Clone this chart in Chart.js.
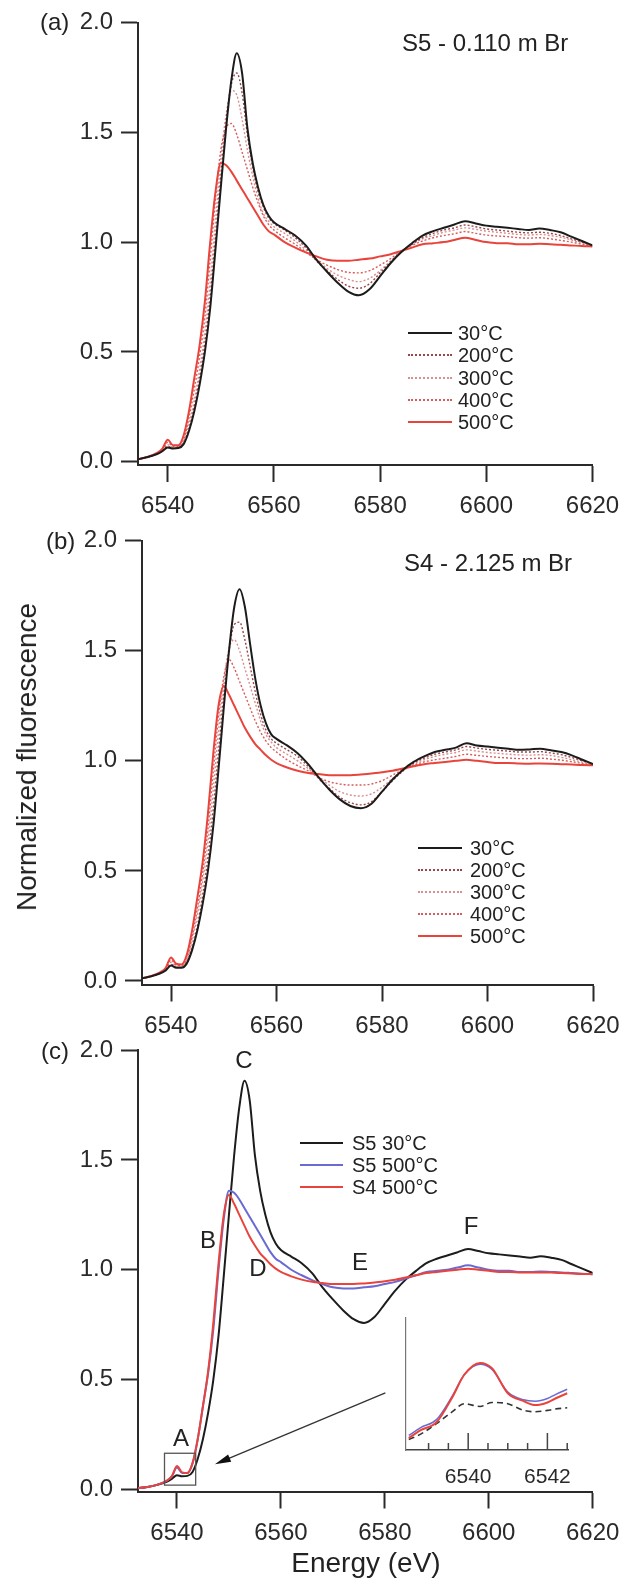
<!DOCTYPE html>
<html>
<head>
<meta charset="utf-8">
<title>Normalized fluorescence vs energy</title>
<script src="https://cdn.jsdelivr.net/npm/chart.js@4.4.1/dist/chart.umd.min.js"></script>
<style>
    body { margin: 0; background: #fff; }
    #fig {
        position: relative; width: 624px; height: 1582px; overflow: hidden;
        font-family: "Liberation Sans", Arial, Helvetica, sans-serif; color: #222;
    }
    #fig canvas { position: absolute; left: 0; }
    .t { position: absolute; white-space: nowrap; line-height: 1; transform: translateY(-50%); font-size: 24px; }
    .c { position: absolute; white-space: nowrap; line-height: 1; transform: translate(-50%, -50%); font-size: 24px; }
    .leg { position: absolute; display: flex; align-items: center; transform: translateY(-50%); font-size: 20px; line-height: 1; white-space: nowrap; }
    .leg .sw { display: inline-block; height: 0; }
    #ytitle { position: absolute; left: 27px; top: 757px; font-size: 28px; white-space: nowrap; line-height: 1;
              transform: translate(-50%, -50%) rotate(-90deg); }
</style>
</head>
<body>
<div id="fig">
    <canvas id="pa" width="624" height="525" style="top:0px"></canvas>
    <canvas id="pb" width="624" height="520" style="top:520px"></canvas>
    <canvas id="pc" width="624" height="552" style="top:1030px"></canvas>
    <canvas id="inset" width="230" height="190" style="left:370px; top:1300px"></canvas>

    <div class="t" style="left:40px; top:22px">(a)</div>
    <div class="t" style="left:402px; top:43px">S5 - 0.110 m Br</div>
    <div class="t" style="left:46px; top:541px">(b)</div>
    <div class="t" style="left:404px; top:563px">S4 - 2.125 m Br</div>
    <div class="t" style="left:41px; top:1051px">(c)</div>

    <div class="c" style="left:244px; top:1060px">C</div>
    <div class="c" style="left:208px; top:1240px">B</div>
    <div class="c" style="left:258px; top:1268px">D</div>
    <div class="c" style="left:360px; top:1262px">E</div>
    <div class="c" style="left:471px; top:1226px">F</div>
    <div class="c" style="left:181px; top:1438px">A</div>

    <div id="ytitle">Normalized fluorescence</div>
    <div class="c" style="left:366px; top:1563px; font-size:28px">Energy (eV)</div>
</div>

<script>
// energy grid (eV) shared by all main-panel curves
const energy = [6532, 6534, 6536, 6538,
    6539, 6540, 6541, 6542, 6543, 6544, 6545, 6546, 6547, 6548,
    6549, 6550, 6551, 6552, 6553, 6554, 6555, 6556, 6557, 6558,
    6559, 6560,
    6562, 6564, 6566, 6568, 6570, 6572, 6574, 6576, 6578, 6580,
    6582, 6584, 6586, 6588, 6590, 6592, 6594, 6596, 6598, 6600,
    6602, 6604, 6606, 6608, 6610, 6612, 6614, 6616, 6618, 6620];

// (a) S5 - 0.110 m Br
const s5_30 = [0.005, 0.01, 0.02, 0.035,
    0.048, 0.065, 0.06, 0.062, 0.08, 0.14, 0.23, 0.35, 0.50, 0.70,
    0.97, 1.25, 1.52, 1.74, 1.86, 1.77, 1.52, 1.36, 1.25, 1.17,
    1.12, 1.09,
    1.06, 1.03, 0.985, 0.92, 0.865, 0.815, 0.775, 0.758, 0.785, 0.845,
    0.905, 0.955, 0.995, 1.03, 1.05, 1.065, 1.08, 1.095, 1.085, 1.075,
    1.07, 1.065, 1.06, 1.055, 1.062, 1.055, 1.045, 1.025, 1.005, 0.985];
const s5_200 = [0.005, 0.01, 0.02, 0.036,
    0.05, 0.07, 0.062, 0.064, 0.085, 0.15, 0.25, 0.38, 0.54, 0.75,
    1.02, 1.30, 1.55, 1.72, 1.77, 1.68, 1.49, 1.34, 1.23, 1.16,
    1.11, 1.085,
    1.055, 1.02, 0.975, 0.915, 0.87, 0.83, 0.80, 0.79, 0.81, 0.86,
    0.91, 0.955, 0.99, 1.02, 1.04, 1.055, 1.065, 1.078, 1.07, 1.06,
    1.055, 1.05, 1.045, 1.042, 1.045, 1.04, 1.03, 1.015, 1.0, 0.983];
const s5_300 = [0.005, 0.01, 0.02, 0.037,
    0.053, 0.078, 0.066, 0.067, 0.09, 0.17, 0.28, 0.42, 0.59, 0.82,
    1.10, 1.38, 1.58, 1.69, 1.67, 1.56, 1.42, 1.30, 1.20, 1.13,
    1.095, 1.07,
    1.04, 1.005, 0.965, 0.92, 0.88, 0.85, 0.83, 0.82, 0.835, 0.87,
    0.915, 0.955, 0.99, 1.015, 1.03, 1.045, 1.055, 1.065, 1.058, 1.05,
    1.045, 1.04, 1.035, 1.032, 1.035, 1.03, 1.022, 1.01, 0.995, 0.982];
const s5_400 = [0.005, 0.01, 0.02, 0.038,
    0.056, 0.088, 0.07, 0.07, 0.1, 0.2, 0.33, 0.48, 0.66, 0.92,
    1.2, 1.42, 1.52, 1.54, 1.49, 1.41, 1.33, 1.25, 1.18, 1.12,
    1.08, 1.055,
    1.02, 0.99, 0.955, 0.92, 0.895, 0.875, 0.862, 0.86, 0.87, 0.895,
    0.925, 0.96, 0.985, 1.005, 1.02, 1.03, 1.038, 1.048, 1.04, 1.032,
    1.028, 1.025, 1.02, 1.018, 1.02, 1.015, 1.008, 1.0, 0.99, 0.98];
const s5_500 = [0.005, 0.01, 0.02, 0.04,
    0.06, 0.1, 0.075, 0.075, 0.12, 0.23, 0.38, 0.53, 0.73, 1.0,
    1.23, 1.36, 1.35, 1.32, 1.28, 1.24, 1.2, 1.16, 1.12, 1.08,
    1.05, 1.035,
    1.0, 0.975, 0.953, 0.935, 0.92, 0.915, 0.915, 0.92, 0.925, 0.935,
    0.945, 0.96, 0.975, 0.99, 0.995, 1.0, 1.01, 1.02, 1.01, 1.0,
    0.995, 0.995, 0.99, 0.99, 0.992, 0.99, 0.988, 0.985, 0.982, 0.98];

// (b) S4 - 2.125 m Br
const s4_30 = [0.005, 0.01, 0.02, 0.035,
    0.048, 0.07, 0.06, 0.06, 0.08, 0.14, 0.23, 0.35, 0.50, 0.70,
    0.96, 1.24, 1.50, 1.70, 1.78, 1.70, 1.53, 1.37, 1.25, 1.17,
    1.12, 1.10,
    1.07, 1.035, 0.985, 0.925, 0.87, 0.825, 0.795, 0.785, 0.805, 0.86,
    0.915, 0.96, 0.995, 1.02, 1.04, 1.05, 1.06, 1.08, 1.07, 1.065,
    1.06, 1.055, 1.05, 1.052, 1.055, 1.048, 1.04, 1.025, 1.005, 0.985];
const s4_200 = [0.005, 0.01, 0.02, 0.036,
    0.05, 0.075, 0.063, 0.063, 0.085, 0.15, 0.25, 0.39, 0.56, 0.78,
    1.04, 1.30, 1.50, 1.62, 1.63, 1.55, 1.43, 1.31, 1.21, 1.14,
    1.1, 1.08,
    1.05, 1.02, 0.975, 0.92, 0.875, 0.835, 0.81, 0.80, 0.815, 0.86,
    0.91, 0.955, 0.99, 1.012, 1.03, 1.04, 1.05, 1.065, 1.058, 1.052,
    1.048, 1.044, 1.04, 1.04, 1.042, 1.036, 1.028, 1.015, 1.0, 0.984];
const s4_300 = [0.005, 0.01, 0.02, 0.037,
    0.054, 0.085, 0.068, 0.067, 0.095, 0.18, 0.3, 0.45, 0.63, 0.87,
    1.13, 1.36, 1.51, 1.55, 1.5, 1.42, 1.34, 1.26, 1.18, 1.12,
    1.085, 1.06,
    1.03, 1.0, 0.965, 0.925, 0.89, 0.86, 0.845, 0.84, 0.85, 0.88,
    0.92, 0.955, 0.985, 1.005, 1.02, 1.03, 1.038, 1.05, 1.044, 1.038,
    1.034, 1.03, 1.027, 1.026, 1.028, 1.024, 1.016, 1.005, 0.994, 0.982];
const s4_400 = [0.005, 0.01, 0.02, 0.038,
    0.057, 0.095, 0.072, 0.07, 0.1, 0.2, 0.33, 0.49, 0.69, 0.95,
    1.2, 1.38, 1.46, 1.42, 1.36, 1.30, 1.24, 1.18, 1.13, 1.09,
    1.06, 1.04,
    1.005, 0.978, 0.955, 0.925, 0.905, 0.895, 0.89, 0.89, 0.895, 0.91,
    0.935, 0.96, 0.98, 0.995, 1.005, 1.012, 1.02, 1.03, 1.025, 1.02,
    1.016, 1.013, 1.01, 1.01, 1.012, 1.008, 1.003, 0.996, 0.988, 0.98];
const s4_500 = [0.005, 0.01, 0.02, 0.04,
    0.06, 0.107, 0.078, 0.075, 0.12, 0.23, 0.38, 0.54, 0.76, 1.03,
    1.25, 1.34, 1.30, 1.25, 1.2, 1.15, 1.11, 1.075, 1.05, 1.025,
    1.005, 0.99,
    0.97, 0.955, 0.945, 0.94, 0.935, 0.935, 0.935, 0.938, 0.942, 0.948,
    0.955, 0.965, 0.975, 0.985, 0.99, 0.995, 1.0, 1.005, 1.0, 0.995,
    0.99, 0.99, 0.988, 0.987, 0.988, 0.987, 0.985, 0.983, 0.981, 0.98];

// (c) inset: pre-edge feature A
const insetEnergy = [6538.5, 6538.8, 6539.2, 6539.6, 6539.9, 6540.3, 6540.6, 6541.0, 6541.4, 6541.7, 6542.0, 6542.2, 6542.5];
const insetS4_500 = [0.029, 0.035, 0.041, 0.060, 0.077, 0.086, 0.082, 0.063, 0.057, 0.054, 0.056, 0.059, 0.063];
const insetS5_500 = [0.031, 0.037, 0.043, 0.061, 0.077, 0.085, 0.081, 0.064, 0.058, 0.057, 0.059, 0.062, 0.066];
const insetS5_30  = [0.028, 0.032, 0.040, 0.049, 0.055, 0.053, 0.056, 0.055, 0.050, 0.049, 0.050, 0.051, 0.052];
const insetTicks = [6539, 6539.5, 6540, 6540.5, 6541, 6541.5, 6542, 6542.5];
const insetMajor = [6540, 6542];

// callout in panel (c): box round A and arrow from the inset
const boxX = [6537.6, 6543.6];
const boxY = [0.02, 0.165];
const arrowFrom = [6580.1, 0.44];
const arrowTo = [6547.3, 0.115];

const FONT = '"Liberation Sans", Arial, Helvetica, sans-serif';
const AXIS = '#2a2a2a';
const BLACK = '#1c1c1c';
const RED = '#e8443c';
const BLUE = '#6a6ad2';
const C200 = '#9a4646';
const C300 = '#d98f8f';
const C400 = '#d85c5c';

Chart.defaults.font.family = FONT;

const points = (xs, ys) => xs.map((x, i) => ({ x, y: ys[i] }));

function curve(label, ys, color, width, dotted, order, xs = energy) {
    return {
        label,
        data: points(xs, ys),
        borderColor: color,
        borderWidth: width,
        borderDash: dotted ? [2, 2] : [],
        pointRadius: 0,
        cubicInterpolationMode: 'monotone',
        fill: false,
        order
    };
}

function panel(id, datasets, geo, extraPlugins = []) {
    return new Chart(document.getElementById(id), {
        type: 'line',
        data: { datasets },
        options: {
            responsive: false,
            animation: false,
            events: [],
            layout: { padding: { left: 0, top: geo.top, right: geo.right, bottom: 0 } },
            plugins: { legend: { display: false }, tooltip: { enabled: false } },
            scales: {
                x: {
                    type: 'linear',
                    min: geo.xMin,
                    max: 6620,
                    ticks: {
                        stepSize: 20, includeBounds: false, autoSkip: false, maxRotation: 0,
                        padding: 10, color: AXIS, font: { size: 24 },
                        callback: v => String(v)
                    },
                    grid: { display: true, drawOnChartArea: false, drawTicks: true, tickLength: 17, tickWidth: 2, tickColor: AXIS },
                    border: { display: true, color: AXIS, width: 2 },
                    afterFit: s => { s.height = geo.xHeight; s.paddingLeft = 0; s.paddingRight = 0; }
                },
                y: {
                    min: geo.yMin,
                    max: 2,
                    ticks: {
                        stepSize: 0.5, includeBounds: false, padding: 8, color: AXIS, font: { size: 24 },
                        callback: v => v.toFixed(1)
                    },
                    grid: { display: true, drawOnChartArea: false, drawTicks: true, tickLength: 17, tickWidth: 2, tickColor: AXIS },
                    border: { display: true, color: AXIS, width: 2 },
                    afterFit: s => { s.width = geo.yWidth; s.paddingTop = 0; s.paddingBottom = 0; }
                }
            }
        },
        plugins: extraPlugins
    });
}

const calloutPlugin = {
    id: 'callout',
    afterDatasetsDraw(chart) {
        const { ctx, scales: { x, y } } = chart;
        ctx.save();
        // box
        const bx0 = x.getPixelForValue(boxX[0]);
        const bx1 = x.getPixelForValue(boxX[1]);
        const by0 = y.getPixelForValue(boxY[1]);
        const by1 = y.getPixelForValue(boxY[0]);
        ctx.strokeStyle = '#555';
        ctx.lineWidth = 1.3;
        ctx.strokeRect(bx0, by0, bx1 - bx0, by1 - by0);
        // arrow
        const ax0 = x.getPixelForValue(arrowFrom[0]);
        const ay0 = y.getPixelForValue(arrowFrom[1]);
        const ax1 = x.getPixelForValue(arrowTo[0]);
        const ay1 = y.getPixelForValue(arrowTo[1]);
        const ang = Math.atan2(ay1 - ay0, ax1 - ax0);
        const cos = Math.cos(ang), sin = Math.sin(ang);
        ctx.strokeStyle = '#333';
        ctx.lineWidth = 1.3;
        ctx.beginPath();
        ctx.moveTo(ax0, ay0);
        ctx.lineTo(ax1 - 10 * cos, ay1 - 10 * sin);
        ctx.stroke();
        ctx.fillStyle = '#111';
        ctx.beginPath();
        ctx.moveTo(ax1, ay1);
        ctx.lineTo(ax1 - 16 * cos + 4 * sin, ay1 - 16 * sin - 4 * cos);
        ctx.lineTo(ax1 - 16 * cos - 4 * sin, ay1 - 16 * sin + 4 * cos);
        ctx.closePath();
        ctx.fill();
        ctx.restore();
    }
};

const insetTickPlugin = {
    id: 'insetTicks',
    afterDraw(chart) {
        const { ctx, scales: { x }, chartArea } = chart;
        ctx.save();
        ctx.strokeStyle = '#444';
        ctx.lineWidth = 1.5;
        insetTicks.forEach(v => {
            const px = x.getPixelForValue(v);
            const len = insetMajor.includes(v) ? 17 : 7;
            ctx.beginPath();
            ctx.moveTo(px, chartArea.bottom);
            ctx.lineTo(px, chartArea.bottom - len);
            ctx.stroke();
        });
        ctx.restore();
    }
};

function addLegend(items, pos) {
    const fig = document.getElementById('fig');
    items.forEach((it, i) => {
        const row = document.createElement('div');
        row.className = 'leg';
        row.style.left = pos.x + 'px';
        row.style.top = (pos.y + i * pos.dy) + 'px';
        const sw = document.createElement('span');
        sw.className = 'sw';
        sw.style.width = pos.w + 'px';
        sw.style.borderTop = it.borderDash.length ? `2px dotted ${it.borderColor}` : `2.5px solid ${it.borderColor}`;
        sw.style.marginRight = pos.gap + 'px';
        const tx = document.createElement('span');
        tx.textContent = it.label;
        row.append(sw, tx);
        fig.appendChild(row);
    });
}

// panel (a)
const setsA = [
    curve('30°C', s5_30, BLACK, 2, false, 0),
    curve('200°C', s5_200, C200, 1.4, true, 3),
    curve('300°C', s5_300, C300, 1.4, true, 4),
    curve('400°C', s5_400, C400, 1.4, true, 2),
    curve('500°C', s5_500, RED, 2, false, 1)
];
panel('pa', setsA, { top: 22.5, right: 31.5, yWidth: 138, xHeight: 60, xMin: 6534.4, yMin: -0.015 });
addLegend(setsA, { x: 408, y: 333, dy: 22.3, w: 44, gap: 6 });

// panel (b)
const setsB = [
    curve('30°C', s4_30, BLACK, 2, false, 0),
    curve('200°C', s4_200, C200, 1.4, true, 3),
    curve('300°C', s4_300, C300, 1.4, true, 4),
    curve('400°C', s4_400, C400, 1.4, true, 2),
    curve('500°C', s4_500, RED, 2, false, 1)
];
panel('pb', setsB, { top: 20.7, right: 31, yWidth: 142, xHeight: 55.5, xMin: 6534.5, yMin: -0.016 });
addLegend(setsB, { x: 418, y: 848, dy: 22, w: 44, gap: 8 });

// panel (c)
const setsC = [
    curve('S5 30°C', s5_30, BLACK, 2, false, 2),
    curve('S5 500°C', s5_500, BLUE, 2, false, 1),
    curve('S4 500°C', s4_500, RED, 2, false, 0)
];
panel('pc', setsC, { top: 20, right: 31.3, yWidth: 138, xHeight: 90.5, xMin: 6532.5, yMin: -0.009 }, [calloutPlugin]);
addLegend(setsC, { x: 300, y: 1143, dy: 22, w: 43, gap: 9 });

// inset of feature A
new Chart(document.getElementById('inset'), {
    type: 'line',
    data: {
        datasets: [
            curve('S4 500°C', insetS4_500, RED, 2, false, 0, insetEnergy),
            curve('S5 500°C', insetS5_500, BLUE, 1.5, false, 1, insetEnergy),
            Object.assign(curve('S5 30°C', insetS5_30, '#333', 1.6, false, 2, insetEnergy), { borderDash: [6, 4] })
        ]
    },
    options: {
        responsive: false,
        animation: false,
        events: [],
        layout: { padding: { left: 0, top: 18, right: 32, bottom: 0 } },
        plugins: { legend: { display: false }, tooltip: { enabled: false } },
        scales: {
            x: {
                type: 'linear',
                min: 6538.43,
                max: 6542.52,
                ticks: {
                    stepSize: 2, includeBounds: false, autoSkip: false, maxRotation: 0,
                    padding: 7, color: AXIS, font: { size: 21 },
                    callback: v => String(v)
                },
                grid: { display: false },
                border: { display: true, color: '#444', width: 1.5 },
                afterFit: s => { s.height = 40; s.paddingLeft = 0; s.paddingRight = 0; }
            },
            y: {
                min: 0.02,
                max: 0.12,
                ticks: { display: false },
                grid: { display: false },
                border: { display: true, color: '#777', width: 1.2 },
                afterFit: s => { s.width = 36; s.paddingTop = 0; s.paddingBottom = 0; }
            }
        }
    },
    plugins: [insetTickPlugin]
});
</script>
</body>
</html>
